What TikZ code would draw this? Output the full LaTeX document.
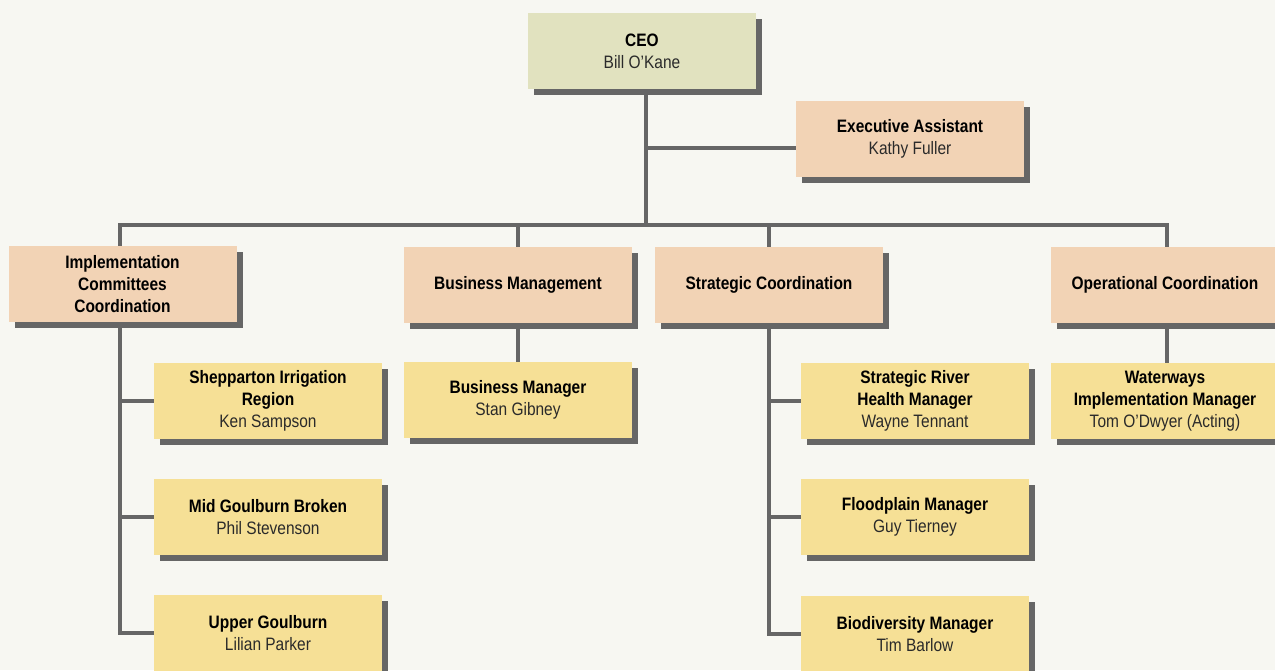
\documentclass[tikz,border=0pt]{standalone}
\usepackage{fontspec}
\setmainfont{Liberation Sans}[FakeStretch=0.86]
\usetikzlibrary{shadows,backgrounds}
\definecolor{bgc}{HTML}{F7F7F2}
\definecolor{ceoc}{HTML}{E1E2BF}
\definecolor{peach}{HTML}{F2D3B5}
\definecolor{yel}{HTML}{F6E096}
\definecolor{shd}{HTML}{666666}
\definecolor{txt2}{HTML}{2A2A2A}
\newcommand{\hd}[1]{\textbf{#1}}
\newcommand{\nm}[1]{{\color{txt2}#1}}
\begin{document}
\begin{tikzpicture}[x=1pt,y=-1pt,
  box/.style={minimum width=228pt,minimum height=76pt,inner sep=2pt,align=center,
    font=\fontsize{18}{22}\selectfont,
    drop shadow={shadow xshift=6pt,shadow yshift=-6pt,fill=shd,opacity=1}},
  ceobox/.style={box,fill=ceoc},
  pbox/.style={box,fill=peach},
  ybox/.style={box,fill=yel},
  conn/.style={draw=shd,line width=4pt,line join=miter,line cap=butt}]
\useasboundingbox (0,0) rectangle (1275,670);
\clip (0,0) rectangle (1275,670);
% boxes
\node[ceobox] (ceo) at (642,51) {\hd{CEO}\\\nm{Bill O'Kane}};
\node[pbox] (exec) at (910,138.5) {\hd{Executive Assistant}\\\nm{Kathy Fuller}};
\node[pbox] (impl) at (122.5,284) {\hd{Implementation}\\\hd{Committees}\\\hd{Coordination}};
\node[pbox] (busm) at (518,285) {\hd{Business Management}};
\node[pbox] (strat) at (769,285) {\hd{Strategic Coordination}};
\node[pbox] (opco) at (1165,285) {\hd{Operational Coordination}};
\node[ybox] (shep) at (268,401) {\hd{Shepparton Irrigation}\\\hd{Region}\\\nm{Ken Sampson}};
\node[ybox] (mid) at (268,517) {\hd{Mid Goulburn Broken}\\\nm{Phil Stevenson}};
\node[ybox] (upper) at (268,633) {\hd{Upper Goulburn}\\\nm{Lilian Parker}};
\node[ybox] (bmgr) at (518,400) {\hd{Business Manager}\\\nm{Stan Gibney}};
\node[ybox] (srh) at (915,401) {\hd{Strategic River}\\\hd{Health Manager}\\\nm{Wayne Tennant}};
\node[ybox] (flood) at (915,517) {\hd{Floodplain Manager}\\\nm{Guy Tierney}};
\node[ybox] (bio) at (915,634) {\hd{Biodiversity Manager}\\\nm{Tim Barlow}};
\node[ybox] (water) at (1165,401) {\hd{Waterways}\\\hd{Implementation Manager}\\\nm{Tom O'Dwyer (Acting)}};
% connector coordinates
\coordinate (bar) at (645.5,224.5);
\coordinate (xA) at (119.5,224.5);
\coordinate (xD) at (1166.5,224.5);
\begin{scope}[on background layer]
\fill[bgc] (0,0) rectangle (1275,670);
\draw[conn] (ceo.south -| bar) -- (bar);
\draw[conn] ([yshift=-9pt]exec.west) -- ([yshift=-9pt]exec.west -| bar);
\draw[conn] (impl.north -| xA) -- (xA) -- (xD) -- (opco.north -| xD);
\draw[conn] (busm.north) -- (busm.north |- bar);
\draw[conn] (strat.north) -- (strat.north |- bar);
\draw[conn] (impl.south -| xA) |- (upper.west);
\draw[conn] (shep.west) -- (shep.west -| xA);
\draw[conn] (mid.west) -- (mid.west -| xA);
\draw[conn] (busm.south) -- (bmgr.north);
\draw[conn] (strat.south) |- (bio.west);
\draw[conn] (srh.west) -- (srh.west -| strat.south);
\draw[conn] (flood.west) -- (flood.west -| strat.south);
\draw[conn] (opco.south -| xD) -- (water.north -| xD);
\end{scope}
\end{tikzpicture}
\end{document}
